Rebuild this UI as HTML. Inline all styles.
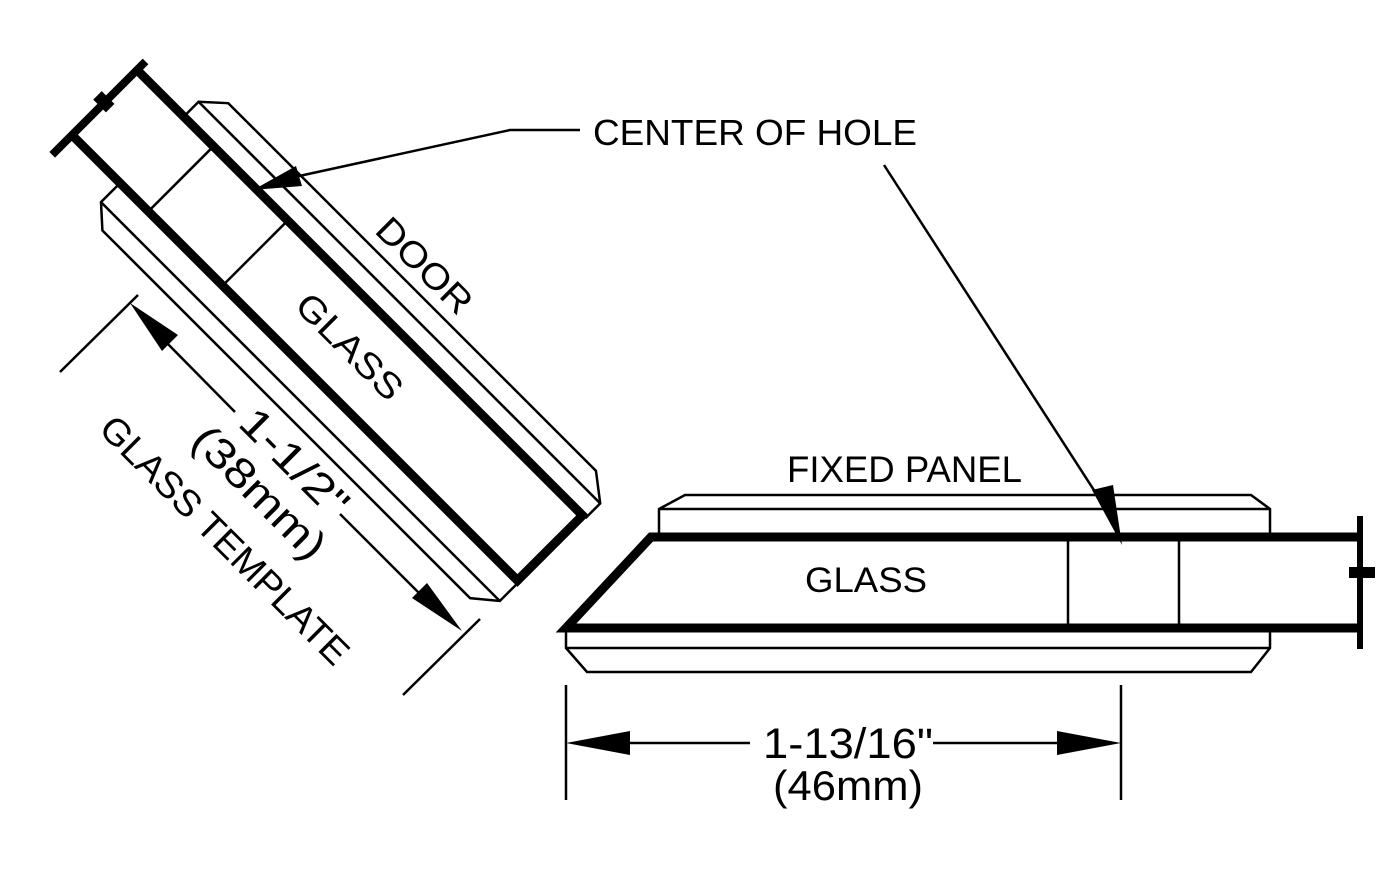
<!DOCTYPE html>
<html><head><meta charset="utf-8"><style>
html,body{margin:0;padding:0;background:#fff;}
svg{display:block;}
text{font-family:"Liberation Sans",Arial,sans-serif;fill:#000;}
</style></head><body>
<svg width="1391" height="870" viewBox="0 0 1391 870" xmlns="http://www.w3.org/2000/svg">
<rect width="1391" height="870" fill="#fff"/>
<g fill="none" stroke="#000" stroke-linejoin="miter">
<g transform="translate(72,135) rotate(45)">
  <path d="M66,-92 L66,-113 L88,-133 L608,-133 L634,-113 L634,-92" stroke-width="2.5"/>
  <line x1="66" y1="-113" x2="634" y2="-113" stroke-width="2.5"/>
  <path d="M68,4 L68,27 L89,46 L609,46 L632,27 L632,4" stroke-width="2.5"/>
  <line x1="68" y1="27" x2="632" y2="27" stroke-width="2.5"/>
  <line x1="108" y1="0" x2="108" y2="-92" stroke-width="2.5"/>
  <line x1="213" y1="0" x2="213" y2="-92" stroke-width="2.5"/>
  <path d="M0,0 L630,0 L630,-92 L0,-92" stroke-width="9"/>
  <line x1="0" y1="28" x2="0" y2="-104" stroke-width="8"/>
  <rect x="-10" y="-52" width="18" height="12" fill="#000" stroke="none"/>
</g>
<path d="M659,537 L659,509 L685,495 L1251,495 L1270,509 L1270,537" stroke-width="2.5"/>
<line x1="659" y1="509" x2="1270" y2="509" stroke-width="2.5"/>
<path d="M566,628 L566,648 L587,672 L1251,672 L1270,648 L1270,628" stroke-width="2.5"/>
<line x1="566" y1="648" x2="1270" y2="648" stroke-width="2.5"/>
<line x1="1068" y1="537" x2="1068" y2="628" stroke-width="2.5"/>
<line x1="1179" y1="537" x2="1179" y2="628" stroke-width="2.5"/>
<path d="M1360,537 L651,537 L566,628 L1360,628" stroke-width="9"/>
<line x1="1360" y1="516" x2="1360" y2="649" stroke-width="6"/>
<rect x="1349" y="567" width="26" height="11" fill="#000" stroke="none"/>
<polyline points="580,130 510,130 290,178" stroke-width="2.5"/>
<polygon points="253,190 296,166 302,186" fill="#000" stroke="none"/>
<line x1="884" y1="165" x2="1110" y2="515" stroke-width="2.5"/>
<polygon points="1122,545 1092,490 1113,485" fill="#000" stroke="none"/>
<line x1="60" y1="372" x2="138" y2="295" stroke-width="2.5"/>
<line x1="403" y1="695" x2="480" y2="619" stroke-width="2.5"/>
<line x1="160" y1="336" x2="235" y2="412" stroke-width="2.5"/>
<polygon points="130,303 178,335 162,351" fill="#000" stroke="none"/>
<line x1="340" y1="514" x2="420" y2="594" stroke-width="2.5"/>
<polygon points="462,631 412,598 427,583" fill="#000" stroke="none"/>
<line x1="566" y1="685" x2="566" y2="800" stroke-width="2.5"/>
<line x1="1121" y1="685" x2="1121" y2="800" stroke-width="2.5"/>
<line x1="620" y1="743" x2="750" y2="743" stroke-width="2.5"/>
<line x1="933" y1="743" x2="1065" y2="743" stroke-width="2.5"/>
<polygon points="566,743 630,731 630,755" fill="#000" stroke="none"/>
<polygon points="1121,743 1057,731 1057,755" fill="#000" stroke="none"/>
</g>
<text x="593" y="145" font-size="36" textLength="324" lengthAdjust="spacingAndGlyphs">CENTER OF HOLE</text>
<text x="787" y="482" font-size="37" textLength="235" lengthAdjust="spacingAndGlyphs">FIXED PANEL</text>
<text x="805" y="592" font-size="35" textLength="122" lengthAdjust="spacingAndGlyphs">GLASS</text>
<text x="763" y="758" font-size="43" textLength="170" lengthAdjust="spacingAndGlyphs">1-13/16"</text>
<text x="773" y="800" font-size="42" textLength="150" lengthAdjust="spacingAndGlyphs">(46mm)</text>
<text transform="translate(425,265) rotate(45)" x="0" y="13" font-size="36" text-anchor="middle" textLength="120" lengthAdjust="spacingAndGlyphs">DOOR</text>
<text transform="translate(350,346) rotate(45)" x="0" y="13" font-size="36" text-anchor="middle" textLength="135" lengthAdjust="spacingAndGlyphs">GLASS</text>
<text transform="translate(295,462) rotate(45)" x="0" y="15" font-size="42" text-anchor="middle" textLength="135" lengthAdjust="spacingAndGlyphs">1-1/2"</text>
<text transform="translate(260,492) rotate(45)" x="0" y="15" font-size="42" text-anchor="middle" textLength="170" lengthAdjust="spacingAndGlyphs">(38mm)</text>
<text transform="translate(225,540) rotate(45)" x="0" y="13" font-size="37" text-anchor="middle" textLength="335" lengthAdjust="spacingAndGlyphs">GLASS TEMPLATE</text>
</svg>
</body></html>
